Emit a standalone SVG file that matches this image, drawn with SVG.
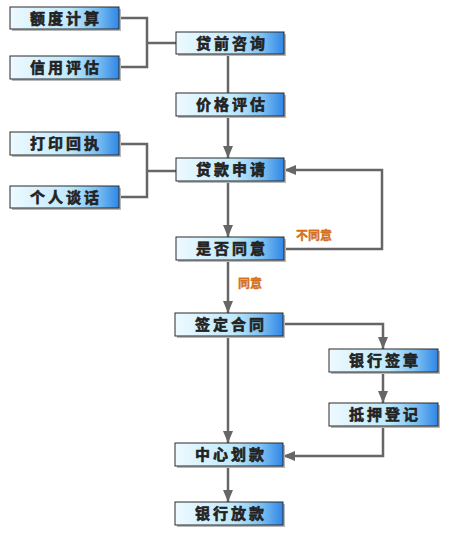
<svg xmlns="http://www.w3.org/2000/svg" width="450" height="539" viewBox="0 0 450 539">
<defs>
<linearGradient id="g" x1="0" y1="0" x2="1" y2="0">
<stop offset="0" stop-color="#eefaff"/>
<stop offset="0.55" stop-color="#bfe9fb"/>
<stop offset="0.8" stop-color="#7cc0f2"/>
<stop offset="1" stop-color="#2f86e6"/>
</linearGradient>
<marker id="ah" viewBox="0 0 12 10" refX="12" refY="5" markerWidth="12" markerHeight="10" markerUnits="userSpaceOnUse" orient="auto">
<path d="M0,0 L12,5 L0,10 Z" fill="#666"/>
</marker>
<style>
.box{fill:url(#g);stroke:#2a2a2a;stroke-width:1}
.sh{fill:#b8b8b8}
.t{font-family:"Noto Sans CJK SC","Noto Sans CJK JP",sans-serif;font-size:15px;font-weight:bold;fill:#222;text-anchor:middle;letter-spacing:3px;stroke:#222;stroke-width:0.6px}
.c{fill:none;stroke:#666;stroke-width:2.5}
.a{marker-end:url(#ah)}
.lbl{font-family:"Noto Sans CJK SC","Noto Sans CJK JP",sans-serif;font-size:12px;font-weight:bold;fill:#d4701e;stroke:#d4701e;stroke-width:0.4px;text-anchor:middle}
</style>
</defs>
<rect width="450" height="539" fill="#fff"/>

<g id="connectors">
<path class="c" d="M119,18 H147 V67 H119"/>
<path class="c" d="M147,43 H176"/>
<path class="c" d="M228,54 V93"/>
<path class="c a" d="M228,116 V158"/>
<path class="c" d="M119,144 H147 V197 H119"/>
<path class="c" d="M147,171 H176"/>
<path class="c a" d="M228,182 V237"/>
<path class="c a" d="M284,249 H382 V170 H284"/>
<path class="c a" d="M228,261 V313"/>
<path class="c a" d="M283,324 H383 V349"/>
<path class="c a" d="M383,372 V403"/>
<path class="c a" d="M383,427 V456 H283"/>
<path class="c a" d="M228,336 V443"/>
<path class="c a" d="M228,467 V502"/>
<text class="lbl" x="314" y="240">不同意</text>
<text class="lbl" x="250" y="288">同意</text>
</g>

<g id="n1"><rect class="sh" x="12" y="9" width="109" height="22"/><rect class="box" x="10" y="7" width="109" height="22"/><text class="t" x="66" y="23.5">额度计算</text></g>
<g id="n2"><rect class="sh" x="12" y="58" width="109" height="23"/><rect class="box" x="10" y="56" width="109" height="23"/><text class="t" x="66" y="73">信用评估</text></g>
<g id="n3"><rect class="sh" x="178" y="34" width="108" height="22"/><rect class="box" x="176" y="32" width="108" height="22"/><text class="t" x="232" y="48.5">贷前咨询</text></g>
<g id="n4"><rect class="sh" x="178" y="95" width="108" height="23"/><rect class="box" x="176" y="93" width="108" height="23"/><text class="t" x="232" y="110">价格评估</text></g>
<g id="n5"><rect class="sh" x="12" y="134" width="109" height="23"/><rect class="box" x="10" y="132" width="109" height="23"/><text class="t" x="66" y="149">打印回执</text></g>
<g id="n6"><rect class="sh" x="12" y="188" width="109" height="22"/><rect class="box" x="10" y="186" width="109" height="22"/><text class="t" x="66" y="202.5">个人谈话</text></g>
<g id="n7"><rect class="sh" x="178" y="160" width="108" height="23"/><rect class="box" x="176" y="158" width="108" height="23"/><text class="t" x="232" y="175">贷款申请</text></g>
<g id="n8"><rect class="sh" x="178" y="239" width="108" height="23"/><rect class="box" x="176" y="237" width="108" height="23"/><text class="t" x="232" y="254">是否同意</text></g>
<g id="n9"><rect class="sh" x="177" y="315" width="108" height="23"/><rect class="box" x="175" y="313" width="108" height="23"/><text class="t" x="231" y="330">签定合同</text></g>
<g id="n10"><rect class="sh" x="331" y="351" width="109" height="23"/><rect class="box" x="329" y="349" width="109" height="23"/><text class="t" x="385" y="366">银行签章</text></g>
<g id="n11"><rect class="sh" x="331" y="405" width="109" height="23"/><rect class="box" x="329" y="403" width="109" height="23"/><text class="t" x="385" y="420">抵押登记</text></g>
<g id="n12"><rect class="sh" x="177" y="445" width="108" height="23"/><rect class="box" x="175" y="443" width="108" height="23"/><text class="t" x="231" y="460">中心划款</text></g>
<g id="n13"><rect class="sh" x="177" y="504" width="108" height="23"/><rect class="box" x="175" y="502" width="108" height="23"/><text class="t" x="231" y="519">银行放款</text></g>
</svg>
